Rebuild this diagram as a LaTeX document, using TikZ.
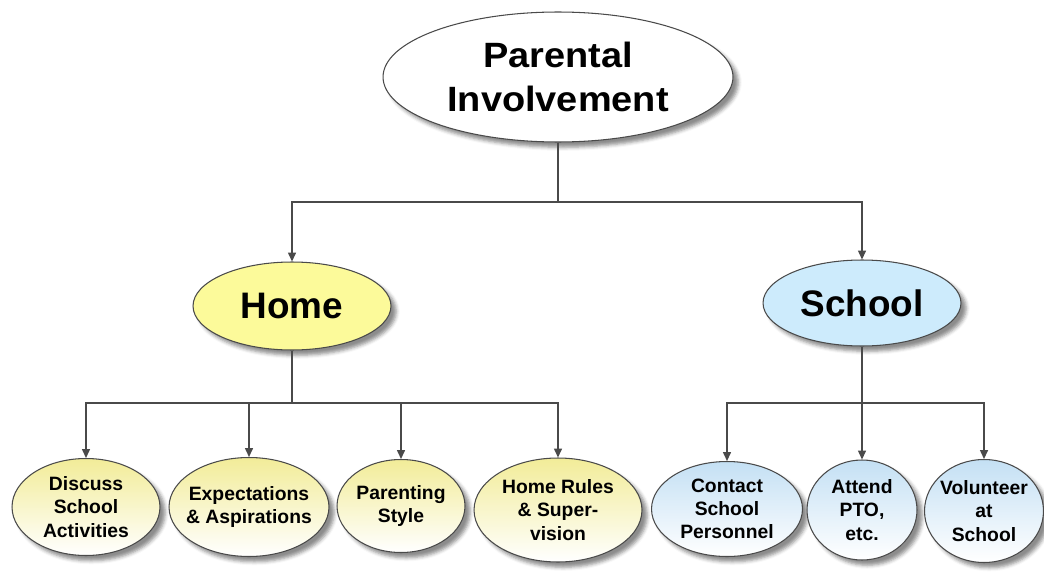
\documentclass[tikz,border=0pt]{standalone}
\usepackage{fontspec}
\setmainfont{Liberation Sans}
\newfontfamily\rootfont[FakeStretch=1.08]{Liberation Sans}
\usepackage{tikz}
\usetikzlibrary{arrows.meta,shapes,shadows.blur}

\definecolor{homeyellow}{HTML}{FCFA9A}
\definecolor{schoolblue}{HTML}{CDEBFC}
\definecolor{leafyellow}{HTML}{F2EC98}
\definecolor{leafblue}{HTML}{C4E0F4}
\definecolor{wiregray}{HTML}{4A4A4A}

\tikzset{
  oval/.style={ellipse, draw=wiregray, line width=.6pt, inner sep=0pt,
    blur shadow={shadow xshift=3pt, shadow yshift=-3pt, shadow blur radius=2pt, shadow opacity=45}},
  rootoval/.style={oval, fill=white, minimum width=7cm, minimum height=2.6cm},
  homeoval/.style={oval, fill=homeyellow, minimum width=3.96cm, minimum height=1.76cm},
  schooloval/.style={oval, fill=schoolblue, minimum width=3.96cm, minimum height=1.72cm},
  yleaf/.style={oval, top color=leafyellow, bottom color=white},
  bleaf/.style={oval, top color=leafblue, bottom color=white},
  bigtxt/.style={align=center, font=\rootfont\bfseries\fontsize{20}{25}\selectfont},
  midtxt/.style={align=center, font=\bfseries\fontsize{21}{25}\selectfont},
  leaftxt/.style={align=center, font=\bfseries\fontsize{11}{13.2}\selectfont},
  wire/.style={draw=wiregray, line width=.7pt},
  arr/.style={wire, -{Triangle[length=5pt,width=4.5pt]}}
}

\begin{document}
\begin{tikzpicture}[x=0.02cm, y=-0.02cm]
  \useasboundingbox (0,0) rectangle (1044,571);

  \node[rootoval, label={[bigtxt]center:Parental\\Involvement}] (root) at (558,77) {};
  \node[homeoval, label={[midtxt]center:Home}] (home) at (292,306) {};
  \node[schooloval, label={[midtxt]center:School}] (school) at (862,303) {};

  \node[yleaf, minimum width=2.96cm, minimum height=1.94cm,
    label={[leaftxt]center:Discuss\\School\\Activities}] (discuss) at (86,507) {};
  \node[yleaf, minimum width=3.2cm, minimum height=1.98cm,
    label={[leaftxt]center:Expectations\\\& Aspirations}] (expect) at (249,507) {};
  \node[yleaf, minimum width=2.56cm, minimum height=1.86cm,
    label={[leaftxt]center:Parenting\\Style}] (parenting) at (401,506) {};
  \node[yleaf, minimum width=3.36cm, minimum height=2.08cm,
    label={[leaftxt]center:Home Rules\\\& Super-\\vision}] (rules) at (558,510) {};

  \node[bleaf, minimum width=3.02cm, minimum height=1.9cm,
    label={[leaftxt]center:Contact\\School\\Personnel}] (contact) at (727,509) {};
  \node[bleaf, minimum width=2.2cm, minimum height=2cm,
    label={[leaftxt]center:Attend\\PTO,\\etc.}] (attend) at (862,510) {};
  \node[bleaf, minimum width=2.38cm, minimum height=2.06cm,
    label={[leaftxt]center:Volunteer\\at\\School}] (volunteer) at (984,511) {};

  % bus levels
  \coordinate (rootbar) at (558,202);
  \coordinate (homebar) at (292,403);
  \coordinate (schoolbar) at (862,403);

  \draw[wire] (root.south) -- (rootbar);
  \draw[arr] (rootbar) -| (home.north);
  \draw[arr] (rootbar) -| (school.north);

  \draw[wire] (home.south) -- (homebar);
  \foreach \n in {discuss, expect, parenting, rules}
    \draw[arr] (homebar) -| (\n.north);

  \draw[wire] (school.south) -- (schoolbar);
  \foreach \n in {contact, attend, volunteer}
    \draw[arr] (schoolbar) -| (\n.north);
\end{tikzpicture}
\end{document}
